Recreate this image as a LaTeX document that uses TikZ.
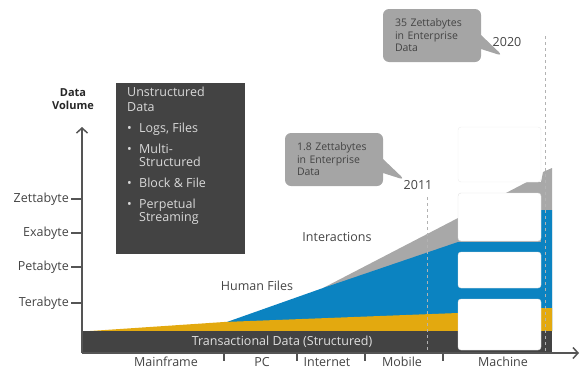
\documentclass[tikz,border=0pt]{standalone}
\usepackage{fontspec}
\setmainfont{Open Sans}
\usetikzlibrary{arrows.meta,shapes.callouts}
\definecolor{darkbar}{HTML}{434343}
\definecolor{areablue}{HTML}{0B83C1}
\definecolor{areagold}{HTML}{E3A90F}
\definecolor{areagray}{HTML}{A8A8A8}
\definecolor{callgray}{HTML}{A5A5A5}
\definecolor{axisgray}{HTML}{555555}
\definecolor{txtgray}{HTML}{444444}
\begin{document}
\begin{tikzpicture}[x=1pt,y=-1pt,
    lbl/.style={text=txtgray,font=\fontsize{12.5}{15}\selectfont,inner sep=0pt},
    calloutbox/.style={rectangle callout,fill=callgray,rounded corners=6pt,minimum width=98pt,minimum height=53pt,
        inner xsep=12pt,text width=74pt,align=left,text=txtgray,font=\fontsize{10.5}{12.5}\selectfont,callout pointer width=14pt},
    whitebox/.style={fill=white,draw=black!7,rounded corners=3pt},
    yearline/.style={dashed,draw=black!30,thin},
    axis/.style={draw=axisgray,line width=1.5pt,-{Straight Barb[length=5pt,width=11pt]}},
    tick/.style={draw=axisgray,line width=2pt}]
\useasboundingbox (0,0) rectangle (580,370);
\coordinate (O) at (82,353);
\coordinate (ytop) at (82,127);
\coordinate (xend) at (579,353);
\fill[areagray] (323,288) -- (458,218) -- (527,182) -- (541,182) -- (543,172) -- (552,168) -- (552,331) -- (323,331) -- cycle;
\fill[areablue] (224,323) -- (323,288) -- (458,242) -- (541,242) -- (541,210) -- (552,210) -- (552,331) -- (224,331) -- cycle;
\fill[areagold] (90,331) -- (224,322) -- (458,313) -- (541,308) -- (552,308) -- (552,331) -- cycle;
\fill[darkbar] (82,331) rectangle (552,353);
\node[lbl,text=white!88!black] (trans) at (282,342) {Transactional Data (Structured)};
\draw[whitebox] (458,127) rectangle (541,182);
\draw[whitebox,draw=black!12] (458,193) rectangle (541,241);
\draw[whitebox,draw=black!12] (458,252) rectangle (541,288);
\draw[whitebox,draw=black!12] (458,299) rectangle (541,350);
\draw[yearline] (427,197) -- (427,353);
\draw[yearline] (545,36) -- (545,353);
\draw[axis] (O) -- (ytop);
\draw[axis] (O) -- (xend);
\foreach \yy/\name/\txt in {199/zetta/Zettabyte,233/exa/Exabyte,267/peta/Petabyte,303/tera/Terabyte}{
    \draw[tick] (71,\yy) -- (82,\yy);
    \node[lbl,anchor=east] (\name) at (69,\yy) {\txt};
}
\foreach \xx in {224,297,365,443}
    \draw[tick] (\xx,354) -- (\xx,361);
\foreach \xx/\name/\txt in {166/mainframe/Mainframe,262/pc/PC,327/internet/Internet,402/mobile/Mobile,503/machine/Machine}
    \node[lbl] (\name) at (\xx,362) {\txt};
\node[align=center,text=black!85,font=\fontsize{11}{13}\selectfont\bfseries] (dv) at (73,99) {Data\\Volume};
\fill[darkbar] (116,83) rectangle (245,254);
\node[lbl,anchor=north west,align=left,text=white!85!black] (utext) at (127,87)
    {Unstructured\\Data\\[6pt]
     \makebox[12pt][l]{\textbullet}Logs, Files\\[6pt]
     \makebox[12pt][l]{\textbullet}Multi-\\[-2pt]\hspace*{12pt}Structured\\[6pt]
     \makebox[12pt][l]{\textbullet}Block \& File\\[6pt]
     \makebox[12pt][l]{\textbullet}Perpetual\\[-2pt]\hspace*{12pt}Streaming};
\node[lbl] (human) at (257,286) {Human Files};
\node[lbl] (inter) at (337,237) {Interactions};
\node[lbl] (y2011) at (418,185) {2011};
\node[lbl] (y2020) at (507,42) {2020};
\node[calloutbox,callout absolute pointer={(405,180)}] (c2011) at (334,159.5) {1.8 Zettabytes\\in Enterprise\\Data};
\node[calloutbox,callout absolute pointer={(503,56)}] (c2020) at (432,35.5) {35 Zettabytes\\in Enterprise\\Data};
\end{tikzpicture}
\end{document}
